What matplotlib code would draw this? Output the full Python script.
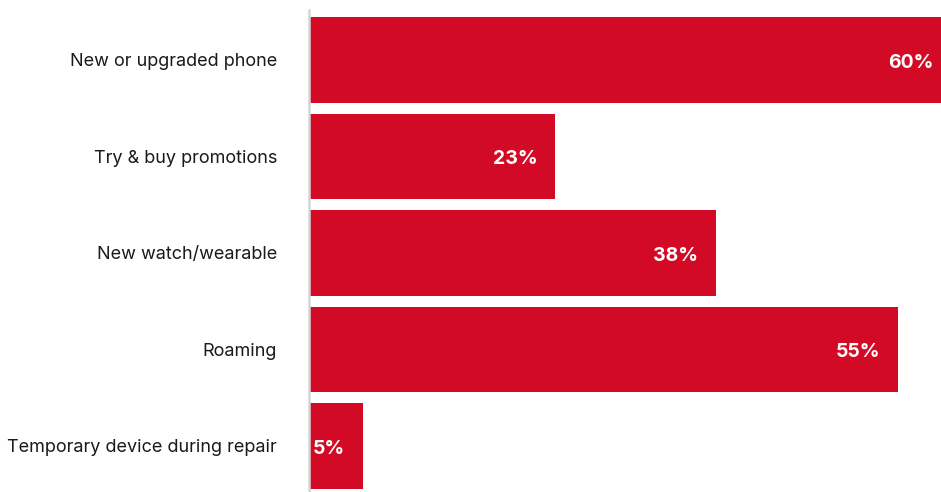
import matplotlib
matplotlib.use("Agg")
import matplotlib.pyplot as plt

categories = ["New or upgraded phone", "Try & buy promotions", "New watch/wearable",
              "Roaming", "Temporary device during repair"]
values = [60, 23, 38, 55, 5]
labels = ["60%", "23%", "38%", "55%", "5%"]

plt.rcParams["font.family"] = ["Inter", "DejaVu Sans"]

fig = plt.figure(figsize=(9.41, 4.92), dpi=100)
ax = fig.add_axes([309 / 941, 0, 1 - 309 / 941, 482 / 492])

ypos = list(range(len(categories)))
ax.barh(ypos, values, height=0.89, color="#D30A25", left=0)

# value labels inside the bar end, white bold
for y, v, lab in zip(ypos, values, labels):
    ax.annotate(lab, xy=(v, y), xytext=(-18, -3), textcoords="offset pixels",
                ha="right", va="center", color="white", fontsize=14,
                fontweight="bold", annotation_clip=False)

ax.set_xlim(0, 59)
ax.set_ylim(4.477, -0.518)
ax.set_yticks(ypos)
ax.set_yticklabels(categories, fontsize=13, color="#1a1a1a")
ax.tick_params(axis="y", length=0, pad=23)
ax.set_xticks([])
for side in ["top", "right", "bottom"]:
    ax.spines[side].set_visible(False)
ax.spines["left"].set_color("#d4d6d6")
ax.spines["left"].set_linewidth(1.8)

fig.savefig("out.png", dpi=100)
